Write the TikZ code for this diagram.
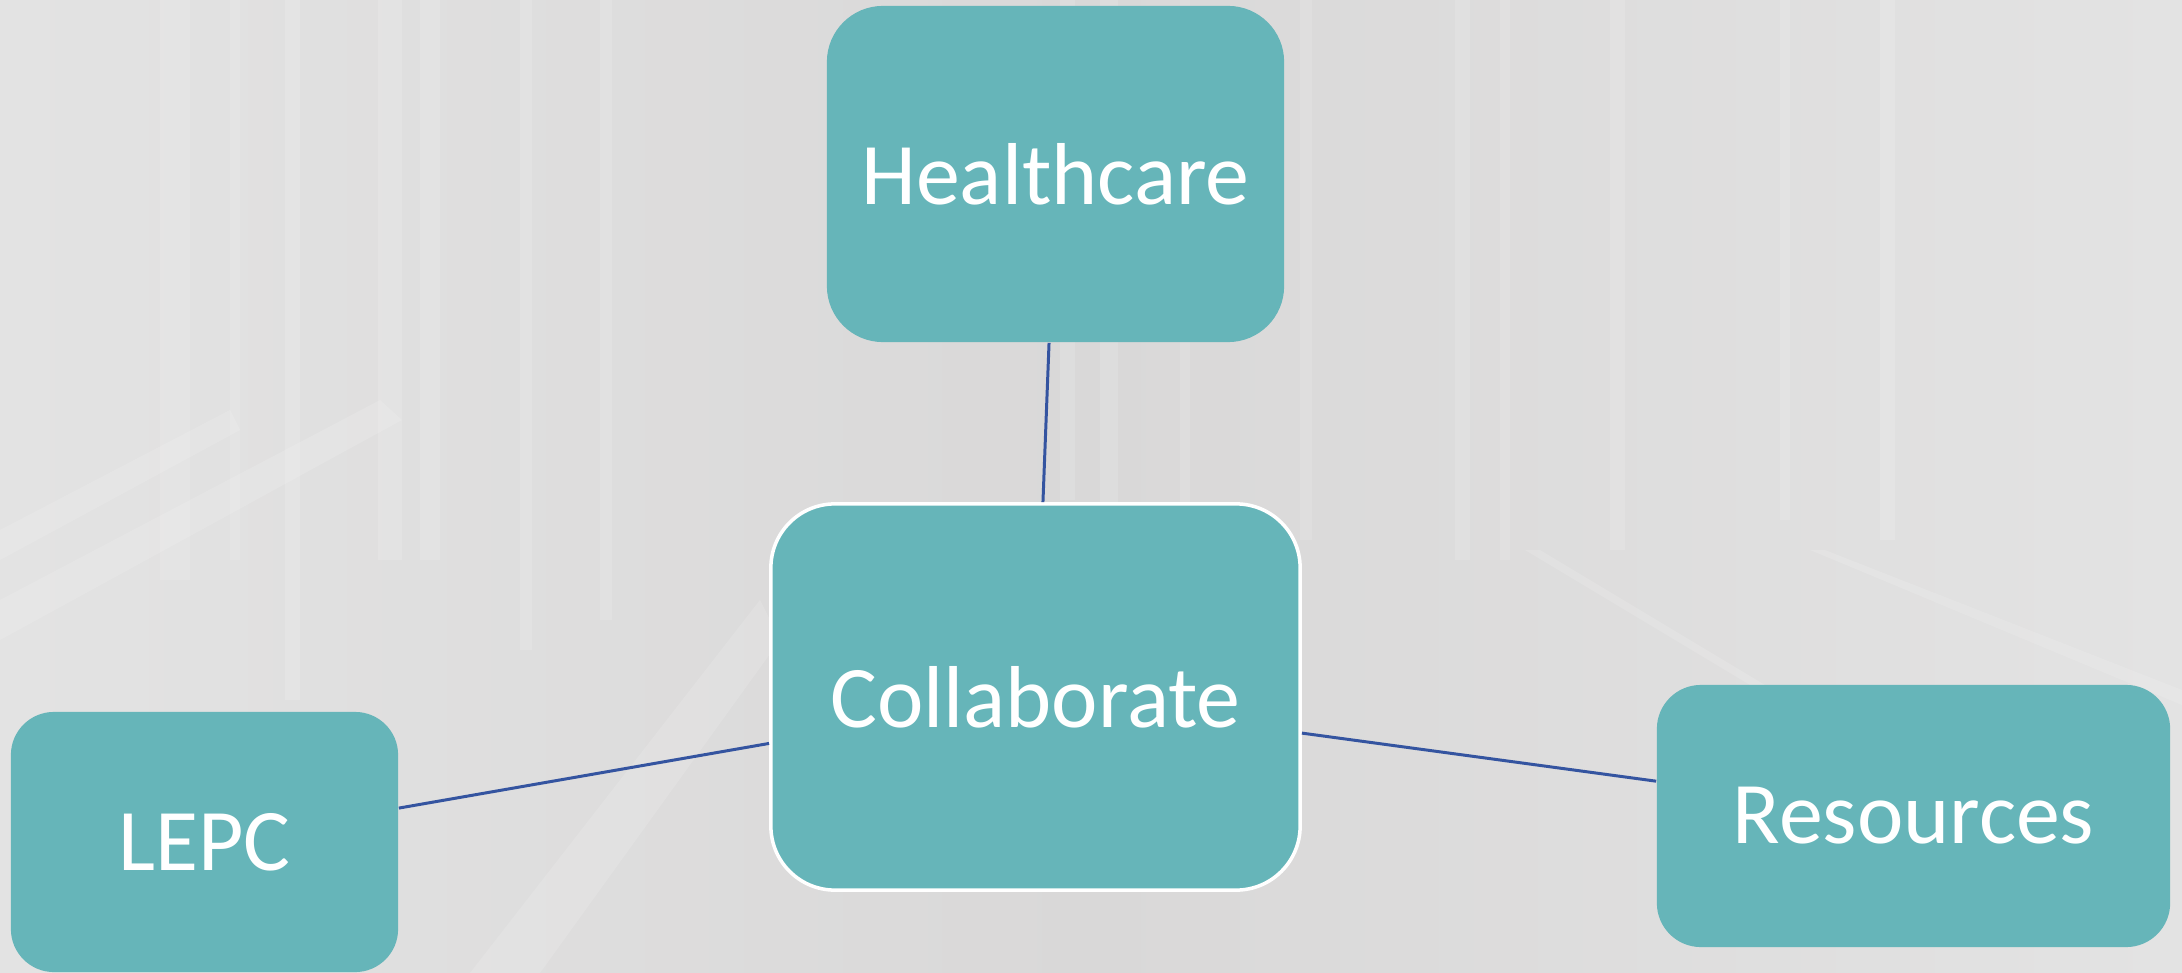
\documentclass[tikz,border=0pt]{standalone}
\usepackage{fontspec}
\setmainfont{Carlito}
\definecolor{boxteal}{HTML}{66B5B9}
\definecolor{linkblue}{HTML}{3454A0}
\definecolor{bgmid}{HTML}{D9D8D8}
\definecolor{bgside}{HTML}{E3E3E3}
\begin{document}
\begin{tikzpicture}[x=0.01cm,y=-0.01cm,
  box/.style={rectangle,fill=boxteal,text=white,inner sep=0pt,
    font=\fontsize{25}{30}\selectfont},
  link/.style={draw=linkblue,line width=0.85pt},
  streak/.style={fill=white,opacity=0.13}]
% background
\useasboundingbox (0,0) rectangle (2182,973);
\shade[left color=bgside,right color=bgside,middle color=bgmid] (0,0) rectangle (2182,973);
% faint corridor streaks
\fill[streak] (160,0) rectangle (190,580);
\fill[streak] (230,0) rectangle (240,560);
\fill[streak] (285,0) rectangle (300,700);
\fill[streak] (378,0) rectangle (402,560);
\fill[streak] (420,0) rectangle (440,560);
\fill[streak] (520,0) rectangle (532,650);
\fill[streak] (600,0) rectangle (612,620);
\fill[streak] (1060,0) rectangle (1075,500);
\fill[streak] (1100,0) rectangle (1118,560);
\fill[streak] (1180,0) rectangle (1190,560);
\fill[streak] (1300,0) rectangle (1312,540);
\fill[streak] (1455,0) rectangle (1470,560);
\fill[streak] (1500,0) rectangle (1510,560);
\fill[streak] (1610,0) rectangle (1625,550);
\fill[streak] (1780,0) rectangle (1790,520);
\fill[streak] (1880,0) rectangle (1895,540);
\fill[streak] (470,973) -- (540,973) -- (780,640) -- (760,600) -- cycle;
\fill[streak] (0,640) -- (0,600) -- (380,400) -- (402,420) -- cycle;
\fill[streak] (0,560) -- (0,530) -- (230,410) -- (240,430) -- cycle;
\fill[streak] (1525,550) -- (1540,550) -- (1790,700) -- (1775,700) -- cycle;
\fill[streak] (1810,550) -- (1825,550) -- (2182,690) -- (2182,705) -- cycle;
% nodes
\node[box,minimum width=4.57cm,minimum height=3.36cm,rounded corners=0.56cm] (hc) at (1055.5,174) {Healthcare};
\node[box,minimum width=5.29cm,minimum height=3.86cm,rounded corners=0.64cm,draw=white,line width=1pt] (co) at (1035.5,697) {Collaborate};
\node[box,minimum width=3.87cm,minimum height=2.60cm,rounded corners=0.43cm] (le) at (204.5,842) {LEPC};
\node[box,minimum width=5.13cm,minimum height=2.62cm,rounded corners=0.44cm] (re) at (1913.5,816) {Resources};
% connectors
\draw[link] (hc) -- (co);
\draw[link] (le) -- (co);
\draw[link] (co) -- (re);
\end{tikzpicture}
\end{document}
